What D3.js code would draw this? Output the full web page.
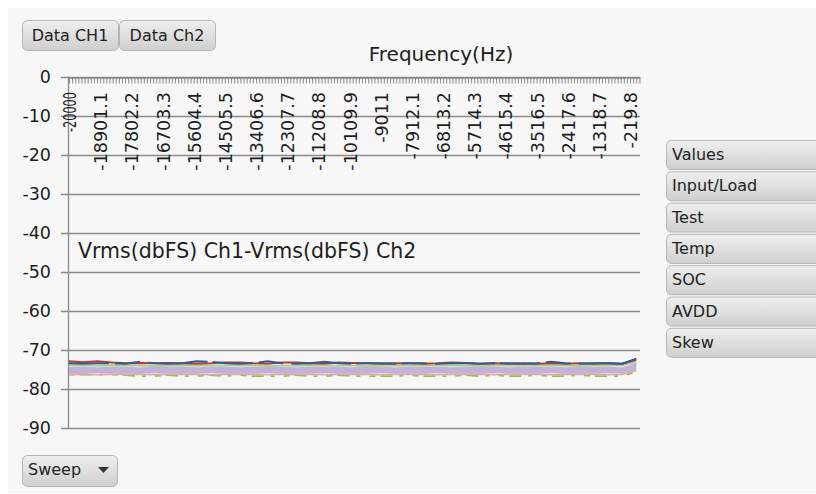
<!DOCTYPE html>
<html><head><meta charset="utf-8">
<script src="https://cdn.jsdelivr.net/npm/d3@7"></script>
<style>
html,body{margin:0;padding:0;background:#fff;}
svg{display:block;font-family:"DejaVu Sans",Verdana,sans-serif;}
</style></head>
<body>
<svg id="c" width="816" height="494"></svg>
<script>
// ---- data ----
const freq = [-20000,-19500,-19000,-18500,-18000,-17500,-17000,-16500,-16000,-15500,-15000,-14500,-14000,-13500,-13000,-12500,-12000,-11500,-11000,-10500,-10000,-9500,-9000,-8500,-8000,-7500,-7000,-6500,-6000,-5500,-5000,-4500,-4000,-3500,-3000,-2500,-2000,-1500,-1000,-500,0];
const seriesRed   = [-73.0,-73.2,-73.0,-73.3,-73.5,-73.4,-73.5,-73.4,-73.5,-73.6,-73.5,-73.3,-73.3,-73.5,-73.6,-73.3,-73.3,-73.5,-73.6,-73.3,-73.4,-73.5,-73.6,-73.5,-73.5,-73.6,-73.5,-73.3,-73.4,-73.6,-73.5,-73.6,-73.5,-73.6,-73.5,-73.6,-73.5,-73.6,-73.5,-73.6,-72.6];
const seriesBlue  = [-73.5,-73.6,-73.5,-73.5,-73.6,-73.1,-73.5,-73.6,-73.5,-73.0,-73.1,-73.5,-73.6,-73.5,-73.0,-73.5,-73.6,-73.5,-73.1,-73.5,-73.6,-73.5,-73.5,-73.6,-73.5,-73.5,-73.6,-73.5,-73.5,-73.6,-73.5,-73.5,-73.6,-73.5,-73.1,-73.5,-73.6,-73.5,-73.5,-73.6,-72.3];
const seriesGreen = [-74.0,-74.1,-74.1,-74.0,-74.1,-74.1,-74.2,-74.1,-74.0,-74.1,-74.1,-74.1,-74.0,-74.1,-74.2,-74.1,-74.1,-74.0,-74.1,-74.1,-74.1,-74.2,-74.1,-74.0,-74.1,-74.1,-74.1,-74.0,-74.1,-74.2,-74.1,-74.1,-74.1,-74.0,-74.1,-74.1,-74.2,-74.1,-74.1,-74.0,-73.0];
const bandTop     = [-74.4,-74.4,-74.5,-74.4,-74.4,-74.5,-74.4,-74.4,-74.4,-74.5,-74.4,-74.4,-74.5,-74.4,-74.4,-74.4,-74.5,-74.4,-74.4,-74.4,-74.5,-74.4,-74.4,-74.5,-74.4,-74.4,-74.4,-74.5,-74.4,-74.4,-74.4,-74.5,-74.4,-74.4,-74.4,-74.5,-74.4,-74.4,-74.4,-74.5,-73.3];
const bandBottom  = [-76.1,-76.1,-76.0,-76.1,-76.1,-76.1,-76.0,-76.1,-76.1,-76.1,-76.0,-76.1,-76.1,-76.1,-76.0,-76.1,-76.1,-76.1,-76.0,-76.1,-76.1,-76.1,-76.0,-76.1,-76.1,-76.1,-76.0,-76.1,-76.1,-76.1,-76.0,-76.1,-76.1,-76.1,-76.0,-76.1,-76.1,-76.1,-76.0,-76.1,-75.2];
const seriesPink  = [-76.3,-76.3,-76.4,-76.3,-76.3,-76.3,-76.4,-76.3,-76.3,-76.3,-76.4,-76.3,-76.3,-76.3,-76.4,-76.3,-76.3,-76.3,-76.4,-76.3,-76.3,-76.3,-76.4,-76.3,-76.3,-76.3,-76.4,-76.3,-76.3,-76.3,-76.4,-76.3,-76.3,-76.3,-76.4,-76.3,-76.3,-76.3,-76.4,-76.3,-75.4];
const seriesGreenLow = [-76.4,-76.4,-76.4,-76.4,-76.5,-76.8,-76.8,-76.5,-76.8,-76.8,-76.5,-76.8,-76.5,-76.8,-76.8,-76.8,-76.5,-76.8,-76.8,-76.5,-76.8,-76.8,-76.8,-76.8,-76.5,-76.8,-76.8,-76.8,-76.5,-76.8,-76.5,-76.8,-76.8,-76.5,-76.8,-76.8,-76.5,-76.8,-76.8,-76.8,-75.6];
const yTicks = [0,-10,-20,-30,-40,-50,-60,-70,-80,-90];
const xTickLabels = ["-20000","-18901.1","-17802.2","-16703.3","-15604.4","-14505.5","-13406.6","-12307.7","-11208.8","-10109.9","-9011","-7912.1","-6813.2","-5714.3","-4615.4","-3516.5","-2417.6","-1318.7","-219.8"];
const topButtons = ["Data CH1","Data Ch2"];
const sideButtons = ["Values","Input/Load","Test","Temp","SOC","AVDD","Skew"];
const xTitle = "Frequency(Hz)";
const yTitle = "Vrms(dbFS) Ch1-Vrms(dbFS) Ch2";

// ---- drawing ----
const svg = d3.select("#c");
const defs = svg.append("defs");
const grad = defs.append("linearGradient").attr("id","btn").attr("x1",0).attr("y1",0).attr("x2",0).attr("y2",1);
grad.append("stop").attr("offset","0%").attr("stop-color","#efefef");
grad.append("stop").attr("offset","100%").attr("stop-color","#cfcfcf");

svg.append("rect").attr("x",8).attr("y",8).attr("width",808).attr("height",485).attr("fill","#f7f7f7");

const x = d3.scaleLinear().domain([-20000,130]).range([69,640]);
const y = d3.scaleLinear().domain([0,-90]).range([76.5,427.7]);

// gridlines
svg.append("g").selectAll("line").data(yTicks).join("line")
  .attr("x1",61).attr("x2",640).attr("y1",d=>Math.round(y(d))+0.5).attr("y2",d=>Math.round(y(d))+0.5)
  .attr("stroke","#8a8a8a").attr("stroke-width",1.3);

// y axis line
svg.append("line").attr("x1",68.5).attr("x2",68.5).attr("y1",y(0)).attr("y2",y(-90)+0.5)
  .attr("stroke","#8a8a8a").attr("stroke-width",1.3);

// y labels
svg.append("g").selectAll("text").data(yTicks).join("text")
  .attr("x",51).attr("y",d=>y(d)).attr("text-anchor","end").attr("dominant-baseline","central")
  .attr("font-size",17.5).attr("fill","#1e1e1e").text(d=>d);

// x minor ticks
const minor = d3.range(0,184).map(i=>-20000+i*109.89);
const xAxis = d3.axisBottom(x).tickValues(minor).tickSize(6).tickSizeOuter(0).tickFormat("");
const gx = svg.append("g").attr("transform",`translate(0,${Math.round(y(0))+0.5})`).call(xAxis);
gx.selectAll("line").attr("stroke","#8a8a8a");
gx.select(".domain").attr("stroke","#8a8a8a").attr("stroke-width",1.3);

// x labels
svg.append("g").selectAll("text").data(xTickLabels).join("text")
  .attr("transform",d=>`translate(${x(+d)+1},92) rotate(-90)`)
  .attr("text-anchor","end").attr("dominant-baseline","central")
  .attr("font-size",17.5).attr("fill","#1e1e1e")
  .each(function(d,i){ if(i===0){ d3.select(this).attr("textLength",40).attr("lengthAdjust","spacingAndGlyphs"); } })
  .text(d=>d);

// titles
svg.append("text").attr("x",441).attr("y",61).attr("text-anchor","middle").attr("font-size",20).attr("fill","#1e1e1e").text(xTitle);
svg.append("text").attr("x",78).attr("y",258).attr("font-size",20.5).attr("fill","#1e1e1e").text(yTitle);

// data
const pts = a => a.map((v,i)=>[freq[i],v]);
const line = d3.line().x(d=>x(d[0])).y(d=>y(d[1]));
const area = d3.area().x((d,i)=>x(freq[i])).y0((d,i)=>y(bandBottom[i])).y1((d,i)=>y(bandTop[i]));
const plot = svg.append("g").attr("fill","none");
plot.append("path").attr("d",line(pts(seriesGreenLow))).attr("stroke","#8cc44a").attr("stroke-width",1.8).attr("stroke-dasharray","6,5,12,7,4,9");
plot.append("path").attr("d",line(pts(seriesPink))).attr("stroke","#eba4a4").attr("stroke-width",1.8);
plot.append("path").attr("d",area(freq)).attr("fill","#c0b2da");
plot.append("path").attr("d",line(pts(seriesGreen))).attr("stroke","#a5cf80").attr("stroke-width",1.8);
plot.append("path").attr("d",line(pts(seriesRed))).attr("stroke","#c0392b").attr("stroke-width",2);
plot.append("path").attr("d",line(pts(seriesBlue))).attr("stroke","#2f5b9e").attr("stroke-width",2).attr("stroke-dasharray","40,6,25,8,60,5");

// buttons
function button(g, bx, by, w, h){
  g.append("rect").attr("x",bx+0.5).attr("y",by+0.5).attr("width",w).attr("height",h).attr("rx",5)
    .attr("fill","url(#btn)").attr("stroke","#b5b5b5");
}
const tb = svg.append("g");
topButtons.forEach((t,i)=>{
  const bx = 22 + i*97;
  button(tb,bx,20,96,30);
  tb.append("text").attr("x",bx+48).attr("y",41).attr("text-anchor","middle").attr("font-size",16).attr("fill","#222").text(t);
});
const sb = svg.append("g");
sideButtons.forEach((t,i)=>{
  const by = 140 + i*31.3;
  button(sb,666,by,170,29);
  sb.append("text").attr("x",672).attr("y",by+20).attr("font-size",16).attr("fill","#222").text(t);
});
const sw = svg.append("g");
button(sw,22,455,95,31);
sw.append("text").attr("x",28).attr("y",475).attr("font-size",16).attr("fill","#222").text("Sweep");
sw.append("path").attr("d","M98,467 L109,467 L103.5,473 Z").attr("fill","#333");
</script>
</body></html>
